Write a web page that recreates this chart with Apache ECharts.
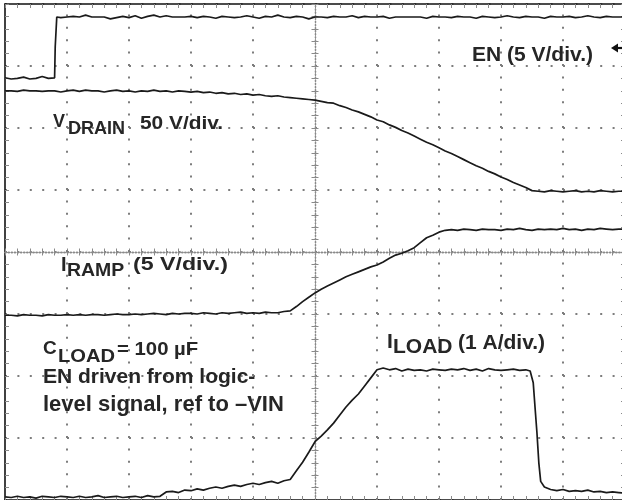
<!DOCTYPE html>
<html><head><meta charset="utf-8">
<script src="https://cdn.jsdelivr.net/npm/echarts@6/dist/echarts.min.js"></script>
<style>html,body{margin:0;padding:0;background:#fff}#c{width:622px;height:500px}</style>
</head><body><div id="c"></div>
<script>
// ---- data (x in graticule divisions, y in divisions from bottom) ----
const timeDiv = [0,0.1,0.2,0.3,0.4,0.5,0.6,0.7,0.8,0.9,
 1,1.1,1.2,1.3,1.4,1.5,1.6,1.7,1.8,1.9,
 2,2.1,2.2,2.3,2.4,2.5,2.6,2.7,2.8,2.9,
 3,3.1,3.2,3.3,3.4,3.5,3.6,3.7,3.8,3.9,
 4,4.1,4.2,4.3,4.4,4.5,4.6,4.7,4.8,4.9,
 5,5.1,5.2,5.3,5.4,5.5,5.6,5.7,5.8,5.9,
 6,6.1,6.2,6.3,6.4,6.5,6.6,6.7,6.8,6.9,
 7,7.1,7.2,7.3,7.4,7.5,7.6,7.7,7.8,7.9,
 8,8.1,8.2,8.3,8.4,8.5,8.6,8.7,8.8,8.9,
 9,9.1,9.2,9.3,9.4,9.5,9.6,9.7,9.8,9.9,10];

const vdrainDiv = [6.60,6.60,6.59,6.61,6.60,6.60,6.59,6.60,6.60,6.58,
 6.60,6.61,6.59,6.61,6.60,6.60,6.58,6.60,6.61,6.59,
 6.60,6.58,6.60,6.59,6.61,6.59,6.60,6.58,6.60,6.59,
 6.58,6.59,6.57,6.58,6.56,6.57,6.55,6.56,6.54,6.55,
 6.53,6.54,6.52,6.51,6.52,6.50,6.49,6.48,6.47,6.46,
 6.45,6.43,6.41,6.40,6.36,6.33,6.29,6.26,6.22,6.18,
 6.13,6.10,6.05,6.01,5.96,5.92,5.87,5.82,5.77,5.73,
 5.68,5.63,5.59,5.54,5.49,5.44,5.39,5.35,5.30,5.26,
 5.21,5.17,5.12,5.08,5.04,4.99,4.98,4.97,4.99,4.98,
 4.97,4.98,4.99,4.97,4.98,4.97,4.99,4.98,4.97,4.98,4.98];

const irampDiv = [2.98,2.98,2.97,2.99,2.98,2.98,2.97,2.99,2.98,2.98,
 2.99,2.98,2.99,2.98,2.99,2.99,2.98,2.99,3.00,2.99,
 2.99,3.00,2.99,3.00,3.01,3.00,2.99,3.01,3.00,3.01,
 3.01,3.00,3.02,3.01,3.00,3.02,3.01,3.02,3.03,3.01,
 3.02,3.01,3.03,3.02,3.02,3.04,3.05,3.12,3.20,3.27,
 3.34,3.40,3.45,3.50,3.55,3.60,3.64,3.68,3.72,3.76,
 3.79,3.84,3.90,3.95,3.98,4.02,4.07,4.15,4.23,4.27,
 4.32,4.35,4.36,4.35,4.37,4.36,4.35,4.37,4.36,4.36,
 4.35,4.37,4.36,4.38,4.36,4.35,4.37,4.36,4.37,4.36,
 4.38,4.36,4.37,4.35,4.37,4.36,4.38,4.37,4.36,4.37,4.37];

const enTime = [0,0.1,0.2,0.3,0.4,0.5,0.6,0.7,0.8,0.805,0.81,0.83,0.835,0.9,
 1,1.1,1.2,1.3,1.4,1.5,1.6,1.7,1.8,1.9,
 2,2.1,2.2,2.3,2.4,2.5,2.6,2.7,2.8,2.9,
 3,3.1,3.2,3.3,3.4,3.5,3.6,3.7,3.8,3.9,
 4,4.1,4.2,4.3,4.4,4.5,4.6,4.7,4.8,4.9,
 5,5.1,5.2,5.3,5.4,5.5,5.6,5.7,5.8,5.9,
 6,6.1,6.2,6.3,6.4,6.5,6.6,6.7,6.8,6.9,
 7,7.1,7.2,7.3,7.4,7.5,7.6,7.7,7.8,7.9,
 8,8.1,8.2,8.3,8.4,8.5,8.6,8.7,8.8,8.9,
 9,9.1,9.2,9.3,9.4,9.5,9.6,9.7,9.8,9.9,10];

const enDiv = [6.81,6.79,6.80,6.82,6.79,6.80,6.83,6.80,6.81,
 6.81,7.31,7.31,7.79,7.78,
 7.79,7.80,7.79,7.82,7.79,7.79,7.79,7.76,7.78,7.80,
 7.78,7.81,7.77,7.80,7.82,7.79,7.81,7.79,7.79,7.79,
 7.80,7.78,7.80,7.79,7.77,7.80,7.79,7.78,7.79,7.81,
 7.79,7.77,7.80,7.79,7.82,7.79,7.78,7.80,7.79,7.76,
 7.79,7.79,7.78,7.80,7.79,7.79,7.81,7.78,7.80,7.79,
 7.79,7.80,7.77,7.79,7.79,7.79,7.79,7.79,7.77,7.80,
 7.79,7.79,7.78,7.80,7.79,7.79,7.77,7.80,7.79,7.78,
 7.79,7.81,7.79,7.78,7.80,7.79,7.79,7.77,7.80,7.79,
 7.79,7.80,7.78,7.79,7.81,7.79,7.78,7.80,7.79,7.79,7.79];

const loadTime = [0,0.1,0.2,0.3,0.4,0.5,0.6,0.7,0.8,0.9,
 1,1.1,1.2,1.3,1.4,1.5,1.6,1.7,1.8,1.9,
 2,2.1,2.2,2.3,2.4,2.5,2.6,2.7,2.8,2.9,
 3,3.1,3.2,3.3,3.4,3.5,3.6,3.7,3.8,3.9,
 4,4.1,4.2,4.3,4.4,4.5,4.6,4.7,4.8,4.9,
 5,5.1,5.2,5.3,5.4,5.5,5.6,5.7,5.8,5.9,
 6,6.1,6.2,6.3,6.4,6.5,6.6,6.7,6.8,6.9,
 7,7.1,7.2,7.3,7.4,7.5,7.6,7.7,7.8,7.9,
 8,8.1,8.2,8.3,8.4,8.47,8.52,8.55,8.58,8.61,8.64,
 8.7,8.8,8.9,9,9.1,9.2,9.3,9.4,9.5,9.6,9.7,9.8,9.9,10];

const iloadDiv = [0.05,0.04,0.06,0.04,0.05,0.03,0.06,0.05,0.04,0.06,
 0.05,0.04,0.06,0.04,0.05,0.07,0.04,0.05,0.06,0.04,
 0.05,0.06,0.04,0.07,0.05,0.06,0.13,0.14,0.12,0.16,
 0.15,0.18,0.16,0.19,0.21,0.19,0.22,0.24,0.22,0.25,
 0.27,0.25,0.28,0.30,0.27,0.31,0.33,0.47,0.61,0.77,
 0.94,1.03,1.13,1.24,1.37,1.50,1.61,1.71,1.84,1.97,
 2.10,2.13,2.10,2.12,2.08,2.11,2.09,2.10,2.08,2.11,
 2.10,2.09,2.11,2.10,2.12,2.09,2.11,2.08,2.12,2.10,
 2.09,2.10,2.11,2.09,2.10,2.08,1.89,1.48,1.08,0.60,0.30,
 0.21,0.17,0.15,0.17,0.14,0.15,0.14,0.16,0.13,0.14,0.12,0.13,0.12,0.11];

// vertical graticule lines (division numbers)
const gridDivX = [1,2,3,4,6,7,8,9];

// ---- chart ----
const zip = (xs, ys) => xs.map((x, i) => [x, ys[i]]).filter(p => p[1] != null);
const GRID = {left: 5, top: 4, width: 620, height: 496, outerBoundsMode: 'none', containLabel: false};
const GRAY = '#8a8a8a';
const DOTC = '#7d7d7d';
const INK = '#1a1a1a';
const TXT = '#262626';
const FONT = '"Liberation Sans", Arial, Helvetica, sans-serif';

function frameAxis(pos, min, max, grid, split) {
  return {
    type: 'value', gridIndex: grid, position: pos, min: min, max: max, interval: 1,
    axisLine: {show: true, onZero: false, lineStyle: {color: '#111', width: 1.6}},
    axisTick: {show: true, inside: true, length: 4, lineStyle: {color: GRAY, width: 1}},
    minorTick: {show: true, splitNumber: 5, length: 4, lineStyle: {color: GRAY, width: 1}},
    axisLabel: {show: false},
    splitLine: {show: split, lineStyle: {color: DOTC, width: 2, type: [2, 10.4]}},
    minorSplitLine: {show: false}
  };
}
function centerAxis(pos, min, max) {
  return {
    type: 'value', gridIndex: 1, position: pos, min: min, max: max, interval: 1,
    axisLine: {show: true, onZero: true, lineStyle: {color: GRAY, width: 1.3, type: [1.3, 1.8]}},
    axisTick: {show: true, inside: false, length: 3.5, lineStyle: {color: GRAY, width: 1}},
    minorTick: {show: true, splitNumber: 5, length: 3.5, lineStyle: {color: GRAY, width: 1}},
    axisLabel: {show: false},
    splitLine: {show: false}, minorSplitLine: {show: false}
  };
}

function txt(text, x, y, size, scaleX) {
  return {type: 'text', x: x, y: y, scaleX: scaleX || 1, z: 100, silent: true,
    style: {text: text, fill: TXT, font: 'bold ' + size + 'px ' + FONT, align: 'left', verticalAlign: 'middle'}};
}

const chart = echarts.init(document.getElementById('c'), null, {renderer: 'canvas'});
chart.setOption({
  animation: false,
  backgroundColor: '#ffffff',
  grid: [Object.assign({}, GRID), Object.assign({}, GRID)],
  xAxis: [frameAxis('top', 0, 10, 0, false), frameAxis('bottom', 0, 10, 0, false),
          centerAxis('bottom', -5, 5), centerAxis('top', -5, 5)],
  yAxis: [frameAxis('left', 0, 8, 0, true), frameAxis('right', 0, 8, 0, false),
          centerAxis('left', -4, 4), centerAxis('right', -4, 4)],
  series: [
    {name: 'graticule', type: 'line', xAxisIndex: 0, yAxisIndex: 0, data: [], symbol: 'none', z: 1,
     markLine: {silent: true, symbol: ['none', 'none'], label: {show: false},
       data: gridDivX.map(v => ({xAxis: v, lineStyle: {color: DOTC, width: 2, type: [2, 10.4]}}))}},
    {name: 'EN', data: zip(enTime, enDiv)},
    {name: 'VDRAIN', data: zip(timeDiv, vdrainDiv)},
    {name: 'IRAMP', data: zip(timeDiv, irampDiv)},
    {name: 'ILOAD', data: zip(loadTime, iloadDiv)}
  ].map((s, i) => i === 0 ? s : Object.assign({type: 'line', xAxisIndex: 0, yAxisIndex: 0, symbol: 'none', showSymbol: false,
      z: 10, lineStyle: {color: INK, width: 1.7}}, s)),
  graphic: [
    txt('EN (5 V/div.)', 472, 55.5, 21),
    {type: 'polygon', z: 100, silent: true, shape: {points: [[611, 48], [618, 43.5], [618, 52.5]]}, style: {fill: '#111'}},
    {type: 'line', z: 100, silent: true, shape: {x1: 617, y1: 48, x2: 623, y2: 48}, style: {stroke: '#111', lineWidth: 2.2}},
    txt('V', 53, 122.5, 18),
    txt('DRAIN', 68, 129.5, 18),
    txt('50 V/div.', 140, 124, 18, 1.16),
    txt('I', 61, 265, 20),
    txt('RAMP', 67, 271.5, 18, 1.08),
    txt('(5 V/div.)', 133, 264.5, 19, 1.22),
    txt('I', 387, 342.5, 21),
    txt('LOAD', 393, 347.5, 21),
    txt('(1 A/div.)', 458, 343, 21),
    txt('C', 43, 349, 19),
    txt('LOAD', 58, 356.5, 19, 1.06),
    txt('= 100 µF', 117, 349.5, 19, 1.07),
    txt('EN driven from logic-', 43, 377.5, 21),
    txt('level signal, ref to –VIN', 43, 405, 22)
  ]
});
</script>
</body></html>
